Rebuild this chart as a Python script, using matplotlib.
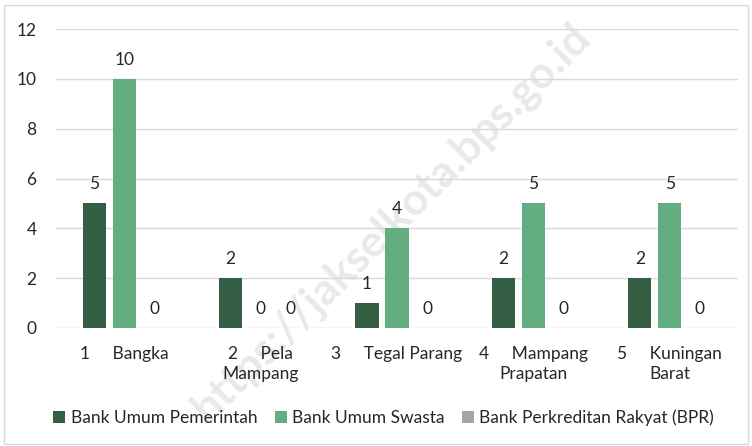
import matplotlib
matplotlib.use("Agg")
import matplotlib.pyplot as plt
from matplotlib.patches import Rectangle
import numpy as np

plt.rcParams['font.family'] = ['Lato', 'DejaVu Sans']

# data
categories = ["1     Bangka", "2     Pela\nMampang", "3     Tegal Parang",
              "4     Mampang\nPrapatan", "5     Kuningan\nBarat"]
series_names = ["Bank Umum Pemerintah", "Bank Umum Swasta",
                "Bank Perkreditan Rakyat (BPR)"]
pemerintah = [5, 2, 1, 2, 2]
swasta = [10, 0, 4, 5, 5]
bpr = [0, 0, 0, 0, 0]
colors = ["#355f45", "#64ad80", "#a5a5a5"]

fs = 12.5

fig = plt.figure(figsize=(7.52, 4.46), dpi=100)
ax = fig.add_axes([56 / 752, 1 - 328 / 446, (738 - 56) / 752, (328 - 29) / 446])
ax.patch.set_visible(False)

x = np.arange(len(categories))
width = 0.169
offset = 0.22
for i, (vals, name, c) in enumerate(zip([pemerintah, swasta, bpr], series_names, colors)):
    pos = x + (i - 1) * offset
    bars = ax.bar(pos, vals, width, color=c, label=name, zorder=2)
    for b, v in zip(bars, vals):
        ax.text(b.get_x() + b.get_width() / 2, v + 0.45, str(v),
                ha='center', va='bottom', fontsize=fs, color='#262626', zorder=3)

ax.set_xlim(-0.5, 4.5)
ax.set_ylim(0, 12)
ax.set_yticks(range(0, 13, 2))
ax.set_xticks(x)
ax.set_xticklabels(categories, fontsize=fs, color='#262626', linespacing=1.3)
ax.tick_params(axis='y', length=0, pad=14, labelsize=fs, labelcolor='#262626')
ax.tick_params(axis='x', length=0, pad=13)
ax.grid(axis='y', color='#d9d9d9', linewidth=1, zorder=0)
for s in ax.spines.values():
    s.set_visible(False)

# watermark
ax.text(0.52, 0.5, "https://jakselkota.bps.go.id", transform=fig.transFigure,
        rotation=45, ha='center', va='center', fontsize=32, fontweight='bold',
        color='#e9e9e9', zorder=1, clip_on=False)

fig.legend(loc='center', bbox_to_anchor=(0.51, 1 - 418 / 446), ncol=3, frameon=False,
           fontsize=fs, handlelength=0.7, handleheight=0.7, handletextpad=0.3,
           columnspacing=1.0, labelcolor='#262626')

fig.patches.append(Rectangle((4 / 752, 2 / 446), 744 / 752, 439 / 446,
                             transform=fig.transFigure, fill=False,
                             edgecolor='#d9d9d9', linewidth=1))

fig.savefig("out.png", dpi=100)
